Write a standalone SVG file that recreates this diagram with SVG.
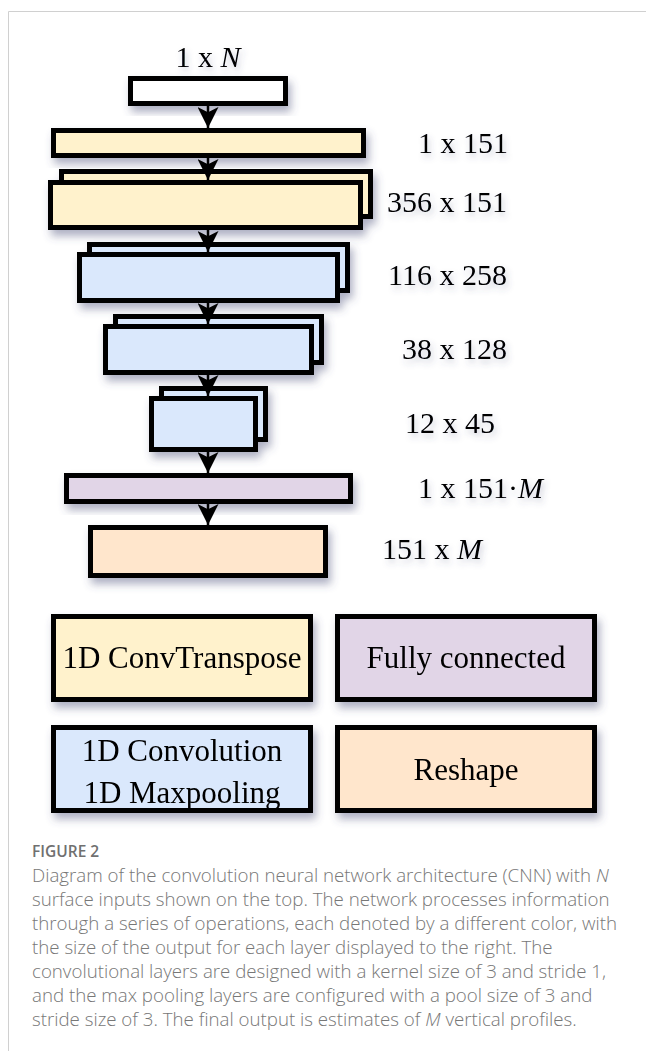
<svg xmlns="http://www.w3.org/2000/svg" width="646" height="1051" viewBox="0 0 646 1051">
<defs>
<filter id="sh" x="-20%" y="-30%" width="150%" height="180%">
<feDropShadow dx="3" dy="6" stdDeviation="4" flood-color="#4a5078" flood-opacity="0.45"/>
</filter>
<filter id="tsh" x="-20%" y="-30%" width="150%" height="180%">
<feDropShadow dx="2" dy="4" stdDeviation="3" flood-color="#4a5078" flood-opacity="0.3"/>
</filter>
<marker id="ah" viewBox="0 0 20 20" refX="20" refY="10" markerWidth="21" markerHeight="21" markerUnits="userSpaceOnUse" orient="auto">
<path d="M0,0 L20,10 L0,20 L5,10 Z" fill="#000"/>
</marker>
</defs>
<style>
.box{stroke:#000;stroke-width:5}
.w{fill:#ffffff}
.y{fill:#fff2cc}
.b{fill:#dae8fc}
.p{fill:#e1d5e7}
.o{fill:#ffe6cc}
.lab{font-family:"Liberation Serif","Times New Roman",serif;font-size:30px;fill:#000}
.leg{font-family:"Liberation Serif","Times New Roman",serif;font-size:31px;fill:#000;text-anchor:middle}
.cap{font-family:"Open Sans","Noto Sans",sans-serif;font-size:18.7px;font-weight:300;fill:#777777}
.conn{stroke:#000;stroke-width:2.5;fill:none}
</style>
<rect width="646" height="1051" fill="#fff"/>
<path d="M8.5,1051 V11.5 H646" fill="none" stroke="#d0d0d0" stroke-width="1"/>

<g id="input" filter="url(#sh)">
<rect class="box w" x="130.5" y="78.5" width="155" height="25"/>
</g>
<text class="lab" x="208" y="67" text-anchor="middle" filter="url(#tsh)">1 x <tspan font-style="italic">N</tspan></text>

<g id="convT1" filter="url(#sh)">
<rect class="box y" x="53.5" y="130.5" width="310" height="25"/>
</g>
<text class="lab" x="418" y="153" filter="url(#tsh)">1 x 151</text>

<g id="convT2" filter="url(#sh)">
<rect class="box y" x="61.5" y="171.5" width="309" height="45"/>
<rect class="box y" x="50.5" y="182.5" width="310" height="45"/>
</g>
<text class="lab" x="387" y="212" filter="url(#tsh)">356 x 151</text>

<g id="conv1" filter="url(#sh)">
<rect class="box b" x="89.5" y="244.5" width="258" height="46"/>
<rect class="box b" x="79.5" y="254.5" width="258" height="46"/>
</g>
<text class="lab" x="388" y="285" filter="url(#tsh)">116 x 258</text>

<g id="conv2" filter="url(#sh)">
<rect class="box b" x="115.5" y="316.5" width="206" height="46"/>
<rect class="box b" x="105.5" y="326.5" width="206" height="46"/>
</g>
<text class="lab" x="402" y="359" filter="url(#tsh)">38 x 128</text>

<g id="conv3" filter="url(#sh)">
<rect class="box b" x="161.5" y="388.5" width="104" height="51"/>
<rect class="box b" x="151.5" y="398.5" width="104" height="51"/>
</g>
<text class="lab" x="405" y="433" filter="url(#tsh)">12 x 45</text>

<g id="fc" filter="url(#sh)">
<rect class="box p" x="66.5" y="475.5" width="284" height="26"/>
</g>
<text class="lab" x="418" y="498" filter="url(#tsh)">1 x 151·<tspan font-style="italic">M</tspan></text>

<g id="reshape" filter="url(#sh)">
<rect class="box o" x="90.5" y="527.5" width="235" height="48"/>
</g>
<text class="lab" x="382" y="559" filter="url(#tsh)">151 x <tspan font-style="italic">M</tspan></text>

<g id="connectors">
<line class="conn" x1="208" y1="106" x2="208" y2="128" marker-end="url(#ah)"/>
<line class="conn" x1="208" y1="158" x2="208" y2="180" marker-end="url(#ah)"/>
<line class="conn" x1="208" y1="230" x2="208" y2="252" marker-end="url(#ah)"/>
<line class="conn" x1="208" y1="303" x2="208" y2="324" marker-end="url(#ah)"/>
<line class="conn" x1="208" y1="375" x2="208" y2="396" marker-end="url(#ah)"/>
<line class="conn" x1="208" y1="452" x2="208" y2="473" marker-end="url(#ah)"/>
<line class="conn" x1="208" y1="504" x2="208" y2="525" marker-end="url(#ah)"/>
</g>

<g id="legend-convT" filter="url(#sh)">
<rect class="box y" x="53.5" y="616.5" width="257" height="83"/>
<text class="leg" x="182" y="668">1D ConvTranspose</text>
</g>
<g id="legend-fc" filter="url(#sh)">
<rect class="box p" x="337.5" y="616.5" width="257" height="83"/>
<text class="leg" x="466" y="668">Fully connected</text>
</g>
<g id="legend-conv" filter="url(#sh)">
<rect class="box b" x="53.5" y="727.5" width="257" height="83"/>
<text class="leg" x="182" y="761">1D Convolution</text>
<text class="leg" x="182" y="803">1D Maxpooling</text>
</g>
<g id="legend-reshape" filter="url(#sh)">
<rect class="box o" x="337.5" y="727.5" width="257" height="83"/>
<text class="leg" x="466" y="780">Reshape</text>
</g>

<g id="caption">
<text x="32" y="857" font-family="'Open Sans','Noto Sans',sans-serif" font-size="15.5" font-weight="600" fill="#707070">FIGURE 2</text>
<text class="cap" x="32" y="882">Diagram of the convolution neural network architecture (CNN) with <tspan font-style="italic">N</tspan></text>
<text class="cap" x="32" y="906">surface inputs shown on the top. The network processes information</text>
<text class="cap" x="32" y="930">through a series of operations, each denoted by a different color, with</text>
<text class="cap" x="32" y="954">the size of the output for each layer displayed to the right. The</text>
<text class="cap" x="32" y="978">convolutional layers are designed with a kernel size of 3 and stride 1,</text>
<text class="cap" x="32" y="1002">and the max pooling layers are configured with a pool size of 3 and</text>
<text class="cap" x="32" y="1026">stride size of 3. The final output is estimates of <tspan font-style="italic">M</tspan> vertical profiles.</text>
</g>
</svg>
